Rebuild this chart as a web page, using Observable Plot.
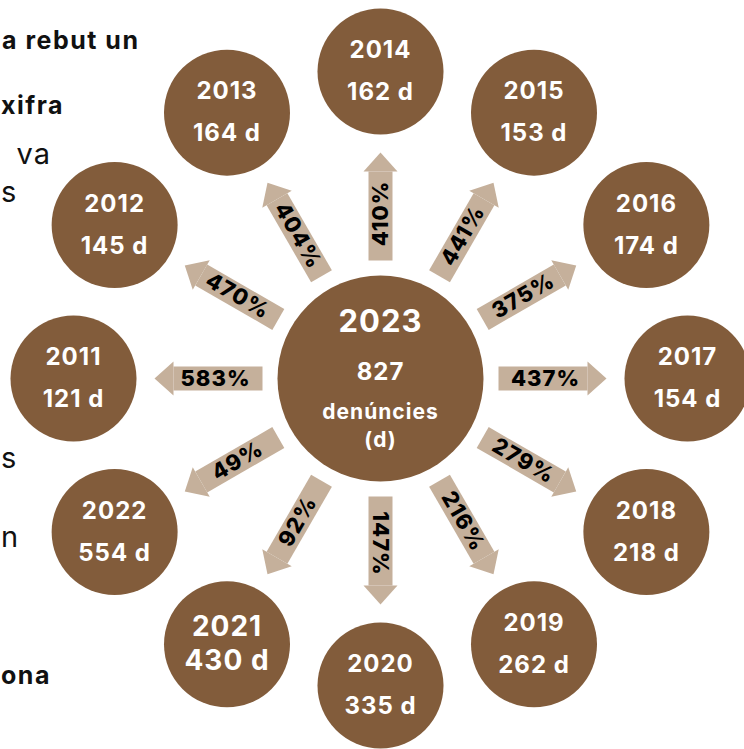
<!DOCTYPE html>
<html>
<head>
<meta charset="utf-8">
<script src="https://cdn.jsdelivr.net/npm/d3@7"></script>
<script src="https://cdn.jsdelivr.net/npm/@observablehq/plot@0.6"></script>
<style>
  body { margin: 0; background: #fff; }
  #wrap { position: relative; width: 744px; height: 749px; overflow: hidden; }
  #wrap svg { position: absolute; left: 0; top: 0; }
  #wrap svg text { letter-spacing: 1px; }
  .frag { position: absolute; font-family: Inter, "Open Sans", sans-serif; color: #111; white-space: nowrap; line-height: 1; z-index: 2; }
  .b { font-weight: 700; font-size: 25px; letter-spacing: 1.5px; }
  .r { font-weight: 400; font-size: 29px; letter-spacing: 1px; }
</style>
</head>
<body>
<div id="wrap"></div>
<script>
// ---- data ----
const years = ["2011", "2012", "2013", "2014", "2015", "2016", "2017", "2018", "2019", "2020", "2021", "2022"];
const counts = [121, 145, 164, 162, 153, 174, 154, 218, 262, 335, 430, 554];
const pctLabels = ["583%", "470%", "404%", "410%", "441%", "375%", "437%", "279%", "216%", "147%", "92%", "49%"];
const centerYear = "2023";
const centerCount = 827;
const centerUnit = ["denúncies", "(d)"];
// cut-off paragraph fragments visible at the left edge
const fragTexts = ["a rebut un", "xifra", "va", "s", "s", "n", "ona"];
const fragBold = [true, true, false, false, false, false, true];

// ---- layout ----
const W = 744, H = 749, CX = 380, CY = 378;
const R_RING = 307, R_SHAFT0 = 118, R_SHAFT1 = 207, R_TEXT = 165;
const BROWN = "#825c3b", TAN = "#c5b09b";

const rows = years.map((y, i) => {
  const ang = 180 - 30 * i; // degrees, counter-clockwise from the right
  const rad = ang * Math.PI / 180;
  let s = -ang;
  if (s > 90) s -= 180;
  if (s < -90) s += 180;
  return {
    year: y, count: counts[i], pct: pctLabels[i], ang,
    cx: R_RING * Math.cos(rad), cy: R_RING * Math.sin(rad),
    x1: R_SHAFT0 * Math.cos(rad), y1: R_SHAFT0 * Math.sin(rad),
    x2: R_SHAFT1 * Math.cos(rad), y2: R_SHAFT1 * Math.sin(rad),
    tx: R_TEXT * Math.cos(rad), ty: R_TEXT * Math.sin(rad),
    headRot: 90 - ang, textRot: s,
    big: y === "2021"
  };
});

const headSymbol = {
  draw(ctx) {
    ctx.moveTo(0, -19);
    ctx.lineTo(17, 0);
    ctx.lineTo(-17, 0);
    ctx.closePath();
  }
};

const center = [{x: 0, y: 0}];
const font = "Inter, 'Open Sans', sans-serif";

const chart = Plot.plot({
  width: W, height: H, margin: 0,
  style: {background: "transparent", fontFamily: font},
  x: {domain: [-CX, W - CX], axis: null},
  y: {domain: [-(H - CY), CY], axis: null},
  marks: [
    Plot.link(rows, {x1: "x1", y1: "y1", x2: "x2", y2: "y2", stroke: TAN, strokeWidth: 24, strokeLinecap: "butt"}),
    Plot.dot(rows, {x: "x2", y: "y2", symbol: headSymbol, rotate: "headRot", fill: TAN, stroke: null}),
    Plot.text(rows, {x: "tx", y: "ty", text: "pct", rotate: "textRot", fill: "#000", fontSize: 22, fontWeight: 800, fontFamily: font}),
    Plot.dot(rows, {x: "cx", y: "cy", r: 63, fill: BROWN, stroke: null}),
    Plot.text(rows.filter(d => !d.big), {x: "cx", y: "cy", text: "year", dy: -21, fill: "#fff", fontSize: 24, fontWeight: 700, fontFamily: font}),
    Plot.text(rows.filter(d => !d.big), {x: "cx", y: "cy", text: d => `${d.count} d`, dy: 21, fill: "#fff", fontSize: 24, fontWeight: 700, fontFamily: font}),
    Plot.text(rows.filter(d => d.big), {x: "cx", y: "cy", text: "year", dy: -17, fill: "#fff", fontSize: 28, fontWeight: 700, fontFamily: font}),
    Plot.text(rows.filter(d => d.big), {x: "cx", y: "cy", text: d => `${d.count} d`, dy: 17, fill: "#fff", fontSize: 28, fontWeight: 700, fontFamily: font}),
    Plot.dot(center, {x: "x", y: "y", r: 103, fill: BROWN, stroke: null}),
    Plot.text(center, {x: "x", y: "y", text: () => centerYear, dy: -56, fill: "#fff", fontSize: 31, fontWeight: 700, fontFamily: font}),
    Plot.text(center, {x: "x", y: "y", text: () => String(centerCount), dy: -6, fill: "#fff", fontSize: 24, fontWeight: 700, fontFamily: font}),
    Plot.text(center, {x: "x", y: "y", text: () => centerUnit[0], dy: 34, fill: "#fff", fontSize: 21, fontWeight: 700, fontFamily: font}),
    Plot.text(center, {x: "x", y: "y", text: () => centerUnit[1], dy: 62, fill: "#fff", fontSize: 21, fontWeight: 700, fontFamily: font})
  ]
});

const wrap = document.getElementById("wrap");
wrap.appendChild(chart);

// fragment placement: left or right anchoring and baseline of each visible piece
const fragAnchorRight = [138, null, 50, null, null, null, null];
const fragBase = [50, 115, 164, 202, 468, 547, 685];
fragTexts.forEach((t, i) => {
  const d = document.createElement("div");
  d.className = "frag " + (fragBold[i] ? "b" : "r");
  d.textContent = t;
  const fs = fragBold[i] ? 25 : 29;
  const ls = fragBold[i] ? 1.5 : 1;
  if (fragAnchorRight[i] != null) {
    d.style.right = (W - fragAnchorRight[i] - ls) + "px";
    d.style.textAlign = "right";
  } else {
    d.style.left = "1px";
  }
  d.style.top = (fragBase[i] - Math.round(0.864 * fs)) + "px";
  wrap.appendChild(d);
});
</script>
</body>
</html>
